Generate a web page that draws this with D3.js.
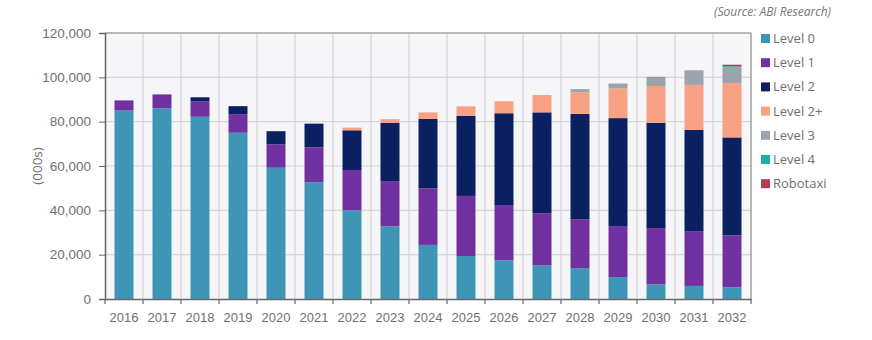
<!DOCTYPE html>
<html>
<head>
<meta charset="utf-8">
<script src="https://cdn.jsdelivr.net/npm/d3@7/dist/d3.min.js"></script>
<style>
  html, body { margin: 0; padding: 0; background: #ffffff; }
  svg { display: block; font-family: "Open Sans", "Noto Sans", sans-serif; }
</style>
</head>
<body>
<svg id="chart" width="872" height="340"></svg>
<script>
// Shipments by automation level, thousands of units
const years = ["2016","2017","2018","2019","2020","2021","2022","2023","2024","2025","2026","2027","2028","2029","2030","2031","2032"];
const level0   = [85000, 86000, 82200, 75000, 59200, 52600, 40100, 32800, 24400, 19400, 17500, 15200, 13900, 9900, 6600, 5900, 5300];
const level1   = [4600, 6300, 7000, 8400, 10600, 15800, 18100, 20400, 25500, 27100, 24900, 23500, 22100, 23000, 25400, 24500, 23400];
const level2   = [0, 0, 1800, 3600, 5900, 10700, 17900, 26200, 31300, 36200, 41400, 45500, 47500, 48700, 47400, 45900, 44200];
const level2p  = [0, 0, 0, 0, 0, 0, 1200, 1700, 3000, 4200, 5400, 7800, 9800, 13400, 16700, 20300, 24500];
const level3   = [0, 0, 0, 0, 0, 0, 0, 0, 0, 0, 0, 0, 1400, 2200, 3800, 6000, 7300];
const level4   = [0, 0, 0, 0, 0, 0, 0, 0, 0, 0, 0, 0, 0, 0, 100, 150, 300];
const robotaxi = [0, 0, 0, 0, 0, 0, 0, 0, 0, 0, 0, 0, 0, 0, 200, 300, 700];
const seriesNames = ["Level 0", "Level 1", "Level 2", "Level 2+", "Level 3", "Level 4", "Robotaxi"];
const seriesColors = ["#3f95b5", "#7131a1", "#0b2060", "#f9a184", "#9ba3ac", "#1bb0a6", "#b23c52"];
const yTicks = [0, 20000, 40000, 60000, 80000, 100000, 120000];

const seriesValues = [level0, level1, level2, level2p, level3, level4, robotaxi];
const rows = years.map((y, i) => {
  const r = { year: y };
  seriesNames.forEach((n, k) => { r[n] = seriesValues[k][i]; });
  return r;
});

const svg = d3.select("#chart");
const plot = { left: 105, right: 751, top: 33, bottom: 299 };
const textColor = "#707070";

const x = d3.scaleBand().domain(years).range([plot.left, plot.right]).paddingInner(0.5).paddingOuter(0.25);
const y = d3.scaleLinear().domain([0, 120000]).range([plot.bottom, plot.top]);
const color = d3.scaleOrdinal().domain(seriesNames).range(seriesColors);

// plot background
svg.append("rect")
  .attr("x", plot.left).attr("y", plot.top)
  .attr("width", plot.right - plot.left).attr("height", plot.bottom - plot.top)
  .attr("fill", "#f6f6f9");

// category boundaries
const step = x.step();
const bounds = years.map(d => x(d) - (step - x.bandwidth()) / 2).concat([plot.right]);

// gridlines
svg.append("g").selectAll("line").data(yTicks.slice(1)).join("line")
  .attr("x1", plot.left).attr("x2", plot.right)
  .attr("y1", d => y(d)).attr("y2", d => y(d))
  .attr("stroke", "#d6d6d9").attr("stroke-width", 1.2);
svg.append("g").selectAll("line").data(bounds.slice(1, -1)).join("line")
  .attr("x1", d => d).attr("x2", d => d)
  .attr("y1", plot.top).attr("y2", plot.bottom)
  .attr("stroke", "#d6d6d9").attr("stroke-width", 1.2);

// stacked bars
const stacked = d3.stack().keys(seriesNames)(rows);
svg.append("g").selectAll("g").data(stacked).join("g")
  .attr("fill", d => color(d.key))
  .selectAll("rect").data(d => d).join("rect")
  .attr("x", d => x(d.data.year))
  .attr("width", x.bandwidth())
  .attr("y", d => y(d[1]))
  .attr("height", d => Math.max(0, y(d[0]) - y(d[1])));

// frame (top and right edges)
svg.append("path")
  .attr("d", `M${plot.left},${plot.top}H${plot.right}V${plot.bottom}`)
  .attr("fill", "none").attr("stroke", "#8a8a8a").attr("stroke-width", 1.2);

// y axis
const yAxis = svg.append("g")
  .attr("transform", `translate(${plot.left},0)`)
  .call(d3.axisLeft(y).tickValues(yTicks).tickFormat(d3.format(",")).tickSize(6).tickPadding(8));
yAxis.select(".domain").attr("stroke", "#666").attr("stroke-width", 1.5);
yAxis.selectAll(".tick line").attr("stroke", "#666");
yAxis.selectAll("text").attr("fill", textColor).attr("font-size", 13.5);

// x axis: labels centred on bars, ticks at category boundaries
const xAxis = svg.append("g")
  .attr("transform", `translate(0,${plot.bottom})`)
  .call(d3.axisBottom(x).tickSize(0).tickPadding(14));
xAxis.select(".domain").attr("stroke", "#666").attr("stroke-width", 1.5);
xAxis.selectAll("text").attr("fill", textColor).attr("font-size", 13);
svg.append("g").selectAll("line").data(bounds).join("line")
  .attr("x1", d => d).attr("x2", d => d)
  .attr("y1", plot.bottom).attr("y2", plot.bottom + 5)
  .attr("stroke", "#666").attr("stroke-width", 1.2);

// y axis title
svg.append("text")
  .attr("transform", "translate(42,166) rotate(-90)")
  .attr("text-anchor", "middle")
  .attr("fill", textColor).attr("font-size", 13.5)
  .text("(000s)");

// source note
svg.append("text")
  .attr("x", 831).attr("y", 16)
  .attr("text-anchor", "end")
  .attr("font-style", "italic")
  .attr("fill", "#777").attr("font-size", 12)
  .text("(Source: ABI Research)");

// legend
const legend = svg.append("g").selectAll("g").data(seriesNames).join("g")
  .attr("transform", (d, i) => `translate(761,${38.5 + i * 24.2})`);
legend.append("rect")
  .attr("x", 0).attr("y", -4.5).attr("width", 9).attr("height", 9)
  .attr("fill", d => color(d));
legend.append("text")
  .attr("x", 12).attr("y", 0).attr("dy", "0.35em")
  .attr("fill", textColor).attr("font-size", 13)
  .text(d => d);
</script>
</body>
</html>
